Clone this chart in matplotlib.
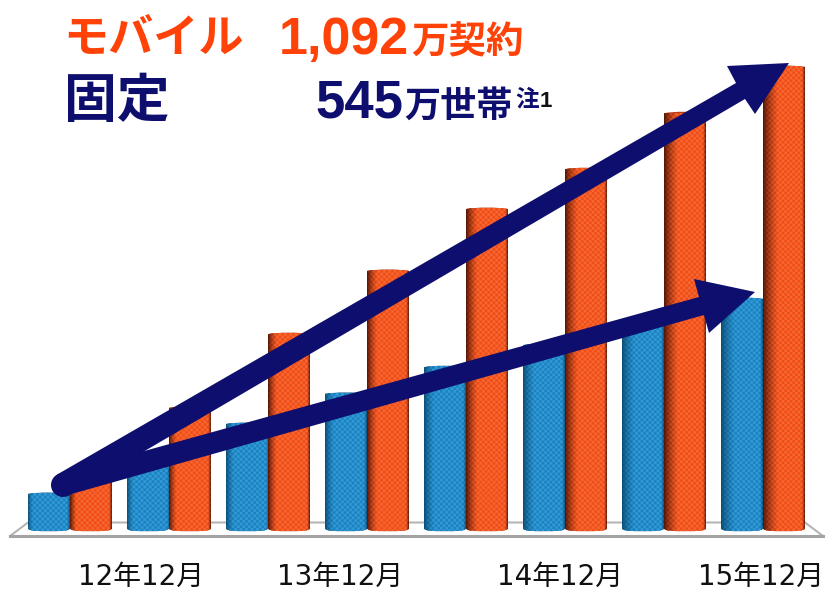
"""Mobile and fixed-line subscribers, cylinder bars with trend arrows."""

import matplotlib

matplotlib.use("Agg")

import matplotlib.pyplot as plt
import numpy as np
from matplotlib.colors import to_rgb
from matplotlib.patches import Circle, PathPatch, Polygon
from matplotlib.path import Path

periods = ["12年12月", "13年12月", "14年12月", "15年12月"]
period_index = [0.717, 2.73, 4.95, 6.98]
fixed = [85, 155, 250, 321, 384, 436, 490, 545]
mobile = [120, 288, 462, 611, 757, 851, 983, 1092]

W, H = 826, 590
NAVY = "#0e0e6e"
ORANGE = "#ff4208"
PX_PER_UNIT = 0.424
BASE_Y = 530
BAR_W = 42
STEP = 99
BLUE = ("#0b4a72", "#1a82c2", "#58bdf0")
RED = ("#4a1205", "#f04c16", "#ff8f5c")


def px(x, y):
    """Figure fraction from reference pixel coordinates."""
    return x / W, 1 - y / H


def texture(rows, left_frac, colors):
    """Horizontal cylinder shading with a fine woven dot pattern."""
    u = (np.arange(BAR_W * 3) + 0.5) / (BAR_W * 3)
    left = np.clip(u / left_frac, 0, 1)[:, None]
    right = np.clip((1 - u) / 0.07, 0, 1)[:, None]
    shade = (left * right) ** 0.8
    dark, mid, light = (np.array(to_rgb(c)) for c in colors)
    base = dark + (mid - dark) * shade
    img = np.repeat(base[None, :, :], rows * 3, axis=0)
    yy, xx = np.mgrid[0:rows * 3, 0:BAR_W * 3]
    dots = ((xx // 8 + yy // 8) % 2 == 0)[:, :, None]
    img = img + dots * (0.42 * shade[None, :, :]) * (light - img)
    return np.clip(img, 0, 1)


def cylinder(ax, centre, value, colors, top_color, left_frac):
    """Draw one bar as a clipped image, with elliptical cap and foot."""
    half = BAR_W / 2 / STEP
    cap = 2 / PX_PER_UNIT
    foot = 1.2 / PX_PER_UNIT
    rise = 2 / PX_PER_UNIT
    k = 0.5523
    verts = [
        (centre - half, value), (centre - half, rise),
        (centre - half, -foot), (centre - half * k, -foot), (centre, -foot),
        (centre + half * k, -foot), (centre + half, -foot), (centre + half, rise),
        (centre + half, value),
        (centre + half * k, value + cap), (centre - half * k, value + cap), (centre - half, value),
    ]
    codes = [Path.MOVETO, Path.LINETO,
             Path.CURVE4, Path.CURVE4, Path.CURVE4,
             Path.CURVE4, Path.CURVE4, Path.CURVE4,
             Path.LINETO,
             Path.CURVE4, Path.CURVE4, Path.CURVE4]
    outline = PathPatch(Path(verts, codes), facecolor=top_color, edgecolor="none", zorder=2)
    ax.add_patch(outline)
    rows = int((value + foot) * PX_PER_UNIT)
    im = ax.imshow(texture(rows, left_frac, colors),
                   extent=(centre - half, centre + half, -foot, value),
                   aspect="auto", interpolation="antialiased", zorder=3)
    im.set_clip_path(outline)


def arrow(fig, start, tail_w, neck_a, head_a, tip, head_b, neck_b):
    """Filled arrow drawn in reference pixels, with a round tail."""
    sx, sy = start
    dx, dy = tip[0] - sx, tip[1] - sy
    n = np.hypot(dx, dy)
    ox, oy = -dy / n * tail_w / 2, dx / n * tail_w / 2
    pts = [(sx + ox, sy + oy), neck_a, head_a, tip, head_b, neck_b, (sx - ox, sy - oy)]
    fig.add_artist(Polygon([px(*p) for p in pts], closed=True, transform=fig.transFigure,
                           facecolor=NAVY, edgecolor="none", zorder=10))
    fig.add_artist(Circle((sx, H - sy), tail_w / 2, transform=None, facecolor=NAVY,
                          edgecolor="none", zorder=10))


fig = plt.figure(figsize=(8.26, 5.90), dpi=100)
ax = fig.add_axes([0, 0, 1, 1])
ax.set_xlim(-70 / STEP, (W - 70) / STEP)
ax.set_ylim(-(H - BASE_Y) / PX_PER_UNIT, BASE_Y / PX_PER_UNIT)
ax.axis("off")

# floor of the 3D chart
floor_y = -6 / PX_PER_UNIT
back_y = 7.5 / PX_PER_UNIT
x_left, x_back_l = (10 - 70) / STEP, (28 - 70) / STEP
x_right, x_back_r = (823 - 70) / STEP, (805 - 70) / STEP
ax.plot([x_left, x_back_l, x_back_r, x_right], [floor_y, back_y, back_y, floor_y],
        color="#b5b5b5", lw=1.5, zorder=1)
ax.plot([x_left, x_right], [floor_y, floor_y], color="#a3a3a3", lw=2.2, zorder=1)

half_step = BAR_W / 2 / STEP
for i, (f, m) in enumerate(zip(fixed, mobile)):
    left_frac = 0.12 + 0.03 * i
    cylinder(ax, i - half_step, f, BLUE, "#0f5f8e", left_frac)
    cylinder(ax, i + half_step, m, RED, "#b8380f", left_frac + 0.03)

label_fonts = ["DejaVu Sans", "Noto Sans CJK JP"]
for pos, label in zip(period_index, periods):
    ax.text(pos, -(585 - BASE_Y) / PX_PER_UNIT, label, ha="center", va="baseline",
            fontsize=20, color="#111111", family=label_fonts)

arrow(fig, (63, 485), 24, (745, 99), (755, 114), (789, 63), (727, 66), (736, 83))
arrow(fig, (63, 485), 22, (704, 315), (709, 333), (755, 292), (694, 279), (699, 297))

bold_jp = {"family": ["Noto Sans CJK JP", "DejaVu Sans"], "fontweight": "bold"}
digits = {"family": "Liberation Sans", "fontweight": "bold"}
fig.text(*px(63, 52), "モバイル", color=ORANGE, fontsize=32.5, va="baseline", **bold_jp)
fig.text(*px(279, 54), "1,092", color=ORANGE, fontsize=37.5, va="baseline", **digits)
fig.text(*px(411, 53), "万契約", color=ORANGE, fontsize=27, va="baseline", **bold_jp)
fig.text(*px(64, 117), "固定", color=NAVY, fontsize=38, va="baseline", **bold_jp)
fig.text(*px(315, 118), "545", color=NAVY, fontsize=38, va="baseline", **digits)
fig.text(*px(404, 117), "万世帯", color=NAVY, fontsize=26, va="baseline", **bold_jp)
fig.text(*px(515, 106), "注", color=NAVY, fontsize=17, va="baseline", **bold_jp)
fig.text(*px(540, 107), "1", color="#111111", fontsize=16, va="baseline", **digits)

fig.savefig("out.png", dpi=100)
plt.close(fig)
